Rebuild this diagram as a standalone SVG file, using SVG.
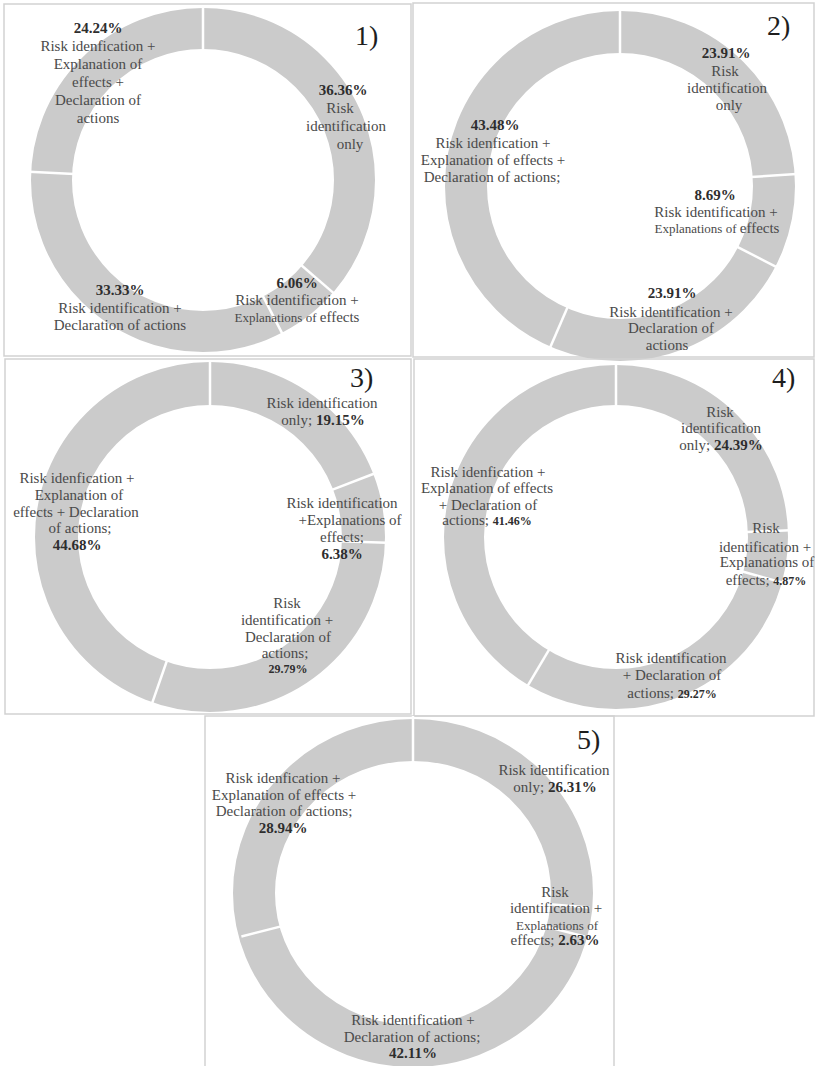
<svg xmlns="http://www.w3.org/2000/svg" width="816" height="1066" viewBox="0 0 816 1066">
<style>
.bg{fill:#fff}
.frame{fill:none;stroke:#d2d2d2;stroke-width:1.5}
.ring{fill:none;stroke:#cbcbcb}
.sep{stroke:#fff;stroke-width:2.5}
.t{font-family:"Liberation Serif","Times New Roman",serif;font-size:15px;fill:#4a4a4a;text-anchor:middle}
.b{font-weight:bold;fill:#2e2e2e}
.s{font-size:13px}
.xs{font-size:12px}
.n{font-family:"Liberation Serif","Times New Roman",serif;font-size:28px;fill:#1e1e1e}
</style>
<rect class="bg" x="0" y="0" width="816" height="1066"/>

<g id="panel1">
<rect class="frame" x="4" y="4" width="407" height="352"/>
<circle class="ring" cx="203" cy="180" r="151.5" stroke-width="41"/>
<g class="sep">
<line x1="203" y1="51" x2="203" y2="6"/>
<line x1="203" y1="51" x2="203" y2="6" transform="rotate(130.9 203 180)"/>
<line x1="203" y1="51" x2="203" y2="6" transform="rotate(152.7 203 180)"/>
<line x1="203" y1="51" x2="203" y2="6" transform="rotate(272.7 203 180)"/>
</g>
<text class="n" x="355" y="45">1)</text>
<text class="t"><tspan class="b" x="98" y="33">24.24%</tspan><tspan x="98" y="51">Risk idenfication +</tspan><tspan x="98" y="69">Explanation of</tspan><tspan x="98" y="87">effects +</tspan><tspan x="98" y="105">Declaration of</tspan><tspan x="98" y="123">actions</tspan></text>
<text class="t"><tspan class="b" x="343" y="95">36.36%</tspan><tspan x="340" y="113">Risk</tspan><tspan x="346" y="131">identification</tspan><tspan x="350" y="149">only</tspan></text>
<text class="t"><tspan class="b" x="297" y="288">6.06%</tspan><tspan x="297" y="305">Risk identification +</tspan><tspan x="297" y="322"><tspan class="s">Explanations of </tspan>effects</tspan></text>
<text class="t"><tspan class="b" x="120" y="295">33.33%</tspan><tspan x="120" y="313">Risk identification +</tspan><tspan x="120" y="330">Declaration of actions</tspan></text>
</g>

<g id="panel2">
<rect class="frame" x="413" y="3" width="401" height="354"/>
<circle class="ring" cx="620" cy="186" r="154" stroke-width="42"/>
<g class="sep">
<line x1="620" y1="55" x2="620" y2="9"/>
<line x1="620" y1="55" x2="620" y2="9" transform="rotate(86.1 620 186)"/>
<line x1="620" y1="55" x2="620" y2="9" transform="rotate(117.4 620 186)"/>
<line x1="620" y1="55" x2="620" y2="9" transform="rotate(203.4 620 186)"/>
</g>
<text class="n" x="767" y="35">2)</text>
<text class="t"><tspan class="b" x="726" y="58">23.91%</tspan><tspan x="725" y="76">Risk</tspan><tspan x="727" y="93">identification</tspan><tspan x="729" y="110">only</tspan></text>
<text class="t"><tspan class="b" x="495" y="130">43.48%</tspan><tspan x="493" y="148">Risk idenfication +</tspan><tspan x="493" y="165">Explanation of effects +</tspan><tspan x="492" y="182">Declaration of actions;</tspan></text>
<text class="t"><tspan class="b" x="715" y="200">8.69%</tspan><tspan x="716" y="217">Risk identification +</tspan><tspan x="717" y="233"><tspan class="s">Explanations of </tspan>effects</tspan></text>
<text class="t"><tspan class="b" x="672" y="298">23.91%</tspan><tspan x="671" y="317">Risk identification +</tspan><tspan x="671" y="333">Declaration of</tspan><tspan x="667" y="350">actions</tspan></text>
</g>

<g id="panel3">
<rect class="frame" x="5" y="359" width="406" height="355"/>
<circle class="ring" cx="210" cy="537" r="153.5" stroke-width="43"/>
<g class="sep">
<line x1="210" y1="407" x2="210" y2="360"/>
<line x1="210" y1="407" x2="210" y2="360" transform="rotate(68.9 210 537)"/>
<line x1="210" y1="407" x2="210" y2="360" transform="rotate(91.9 210 537)"/>
<line x1="210" y1="407" x2="210" y2="360" transform="rotate(199.2 210 537)"/>
</g>
<text class="n" x="350" y="387">3)</text>
<text class="t"><tspan x="322" y="408">Risk identification</tspan><tspan x="323" y="425">only; <tspan class="b">19.15%</tspan></tspan></text>
<text class="t"><tspan x="77" y="483">Risk idenfication +</tspan><tspan x="79" y="500">Explanation of</tspan><tspan x="76" y="517">effects + Declaration</tspan><tspan x="80" y="533">of actions;</tspan><tspan class="b" x="77" y="550">44.68%</tspan></text>
<text class="t"><tspan x="342" y="508">Risk identification</tspan><tspan x="350" y="525">+Explanations of</tspan><tspan x="342" y="542">effects;</tspan><tspan class="b" x="342" y="559">6.38%</tspan></text>
<text class="t"><tspan x="287" y="608">Risk</tspan><tspan x="287" y="625">identification +</tspan><tspan x="288" y="642">Declaration of</tspan><tspan x="285" y="658">actions;</tspan><tspan class="b xs" x="288" y="673">29.79%</tspan></text>
</g>

<g id="panel4">
<rect class="frame" x="414" y="359" width="400" height="357"/>
<circle class="ring" cx="616" cy="537" r="152" stroke-width="40"/>
<g class="sep">
<line x1="616" y1="406" x2="616" y2="363"/>
<line x1="616" y1="406" x2="616" y2="363" transform="rotate(87.8 616 537)"/>
<line x1="616" y1="406" x2="616" y2="363" transform="rotate(105.3 616 537)"/>
<line x1="616" y1="406" x2="616" y2="363" transform="rotate(210.7 616 537)"/>
</g>
<text class="n" x="772" y="387">4)</text>
<text class="t"><tspan x="720" y="417">Risk</tspan><tspan x="721" y="433">identification</tspan><tspan x="721" y="450">only; <tspan class="b">24.39%</tspan></tspan></text>
<text class="t"><tspan x="488" y="477">Risk idenfication +</tspan><tspan x="487" y="493">Explanation  of effects</tspan><tspan x="488" y="510">+ Declaration of</tspan><tspan x="487" y="525">actions; <tspan class="b xs">41.46%</tspan></tspan></text>
<text class="t"><tspan x="766" y="533">Risk</tspan><tspan x="765" y="552">identification +</tspan><tspan x="767" y="567">Explanations of</tspan><tspan x="766" y="585">effects; <tspan class="b xs">4.87%</tspan></tspan></text>
<text class="t"><tspan x="671" y="663">Risk identification</tspan><tspan x="672" y="680">+ Declaration of</tspan><tspan x="672" y="698">actions; <tspan class="b xs">29.27%</tspan></tspan></text>
</g>

<g id="panel5">
<path class="frame" d="M205 1066 V716 H614 V1066"/>
<ellipse class="ring" cx="413" cy="893" rx="159" ry="153" stroke-width="42"/>
<g class="sep">
<line x1="413" y1="762" x2="413" y2="716"/>
<line x1="413" y1="762" x2="413" y2="716" transform="rotate(94.7 413 893)"/>
<line x1="413" y1="762" x2="413" y2="716" transform="rotate(104.2 413 893)"/>
<line x1="413" y1="762" x2="413" y2="716" transform="rotate(255.8 413 893)"/>
</g>
<text class="n" x="577" y="749">5)</text>
<text class="t"><tspan x="554" y="775">Risk identification</tspan><tspan x="555" y="792">only; <tspan class="b">26.31%</tspan></tspan></text>
<text class="t"><tspan x="283" y="783">Risk idenfication +</tspan><tspan x="284" y="800">Explanation  of effects +</tspan><tspan x="284" y="816">Declaration of actions;</tspan><tspan class="b" x="283" y="833">28.94%</tspan></text>
<text class="t"><tspan x="555" y="897">Risk</tspan><tspan x="556" y="913">identification +</tspan><tspan class="s" x="557" y="930">Explanations of</tspan><tspan x="555" y="945">effects; <tspan class="b">2.63%</tspan></tspan></text>
<text class="t"><tspan x="413" y="1025">Risk identification +</tspan><tspan x="412" y="1042">Declaration of actions;</tspan><tspan class="b" x="413" y="1058">42.11%</tspan></text>
</g>
</svg>
